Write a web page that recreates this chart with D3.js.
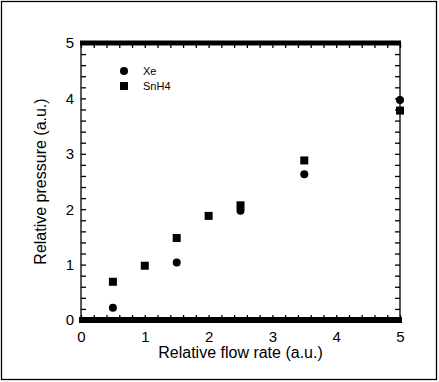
<!DOCTYPE html>
<html>
<head>
<meta charset="utf-8">
<script src="https://cdn.jsdelivr.net/npm/d3@7"></script>
<style>
  body { margin: 0; background: #fff; }
  text { font-family: "Liberation Sans", Arial, sans-serif; }
</style>
</head>
<body>
<svg id="chart"></svg>
<script>
// data
var flowXe = [0.5, 1.5, 2.5, 3.5, 5.0];
var pressXe = [0.22, 1.04, 1.97, 2.63, 3.97];
var flowSnH4 = [0.5, 1.0, 1.5, 2.0, 2.5, 3.5, 5.0];
var pressSnH4 = [0.69, 0.98, 1.48, 1.88, 2.07, 2.88, 3.78];
var xTicks = [0, 1, 2, 3, 4, 5];
var yTicks = [0, 1, 2, 3, 4, 5];
var seriesNames = ["Xe", "SnH4"];

var W = 439, H = 382;
var margins = {top: 43, right: 39, bottom: 62, left: 81},
    width = W - margins.left - margins.right,
    height = H - margins.top - margins.bottom;

var svg = d3.select('#chart')
    .attr('width', W)
    .attr('height', H);

// outer frame
svg.append('rect')
    .attr('x', 1.5).attr('y', 1.5)
    .attr('width', 435).attr('height', 378)
    .style('fill', 'none')
    .style('stroke', '#000')
    .style('stroke-width', 1.3);

var g = svg.append('g')
    .attr('transform', 'translate(' + margins.left + ',' + margins.top + ')');

var xScale = d3.scaleLinear().domain([0, 5]).range([0, width]);
var yScale = d3.scaleLinear().domain([0, 5]).range([height, 0]);

var minor = d3.range(0, 5.001, 0.2);

// left / right axes with inward minor ticks
g.append('g')
    .call(d3.axisRight(yScale).tickValues(minor).tickSize(5).tickFormat(''))
    .call(a => a.select('.domain').attr('d', 'M0,0V' + height))
    .selectAll('line,path').style('stroke', '#000').style('stroke-width', 1.3);

g.append('g')
    .attr('transform', 'translate(' + width + ',0)')
    .call(d3.axisLeft(yScale).tickValues(minor).tickSize(5).tickFormat(''))
    .call(a => a.select('.domain').attr('d', 'M0,0V' + height))
    .selectAll('line,path').style('stroke', '#000').style('stroke-width', 1.3);

// top / bottom axes, drawn heavy
g.append('g')
    .call(d3.axisBottom(xScale).tickValues(minor).tickSize(5).tickFormat(''))
    .call(a => a.select('.domain').attr('d', 'M-1,0H' + (width + 1)).style('stroke-width', 5))
    .selectAll('line').style('stroke-width', 1.3);

g.append('g')
    .attr('transform', 'translate(0,' + height + ')')
    .call(d3.axisTop(xScale).tickValues(minor).tickSize(5).tickFormat(''))
    .call(a => a.select('.domain').attr('d', 'M-2,0H' + (width + 2)).style('stroke-width', 6))
    .selectAll('line').style('stroke-width', 1.3);

// tick labels
g.append('g')
    .attr('transform', 'translate(0,' + height + ')')
    .call(d3.axisBottom(xScale).tickValues(xTicks).tickSize(0).tickPadding(11).tickFormat(d3.format('d')))
    .call(a => a.select('.domain').remove())
    .selectAll('text').style('font-size', '15px').style('fill', '#000');

g.append('g')
    .call(d3.axisLeft(yScale).tickValues(yTicks).tickSize(0).tickPadding(7).tickFormat(d3.format('d')))
    .call(a => a.select('.domain').remove())
    .selectAll('text').style('font-size', '15px').style('fill', '#000');

// axis titles
svg.append('text')
    .attr('x', margins.left + width / 2)
    .attr('y', 358)
    .attr('text-anchor', 'middle')
    .style('font-size', '16px')
    .text('Relative flow rate (a.u.)');

svg.append('text')
    .attr('transform', 'translate(46,' + (margins.top + height / 2) + ') rotate(-90)')
    .attr('text-anchor', 'middle')
    .style('font-size', '16px')
    .text('Relative pressure (a.u.)');

// markers
var xeData = flowXe.map((f, i) => ({x: f, y: pressXe[i]}));
var snData = flowSnH4.map((f, i) => ({x: f, y: pressSnH4[i]}));

g.selectAll('.xe')
    .data(xeData)
    .enter()
    .append('circle')
    .attr('class', 'xe')
    .attr('cx', d => xScale(d.x))
    .attr('cy', d => yScale(d.y))
    .attr('r', 4)
    .style('fill', '#000');

g.selectAll('.sn')
    .data(snData)
    .enter()
    .append('rect')
    .attr('class', 'sn')
    .attr('x', d => xScale(d.x) - 4)
    .attr('y', d => yScale(d.y) - 4)
    .attr('width', 8)
    .attr('height', 8)
    .style('fill', '#000');

// legend
var legend = svg.append('g').attr('transform', 'translate(124,71)');
legend.append('circle').attr('cx', 0).attr('cy', 0).attr('r', 4).style('fill', '#000');
legend.append('rect').attr('x', -4).attr('y', 11).attr('width', 8).attr('height', 8).style('fill', '#000');
legend.selectAll('text')
    .data(seriesNames)
    .enter()
    .append('text')
    .attr('x', 19)
    .attr('y', (d, i) => 4 + i * 15)
    .style('font-size', '11px')
    .text(d => d);
</script>
</body>
</html>
